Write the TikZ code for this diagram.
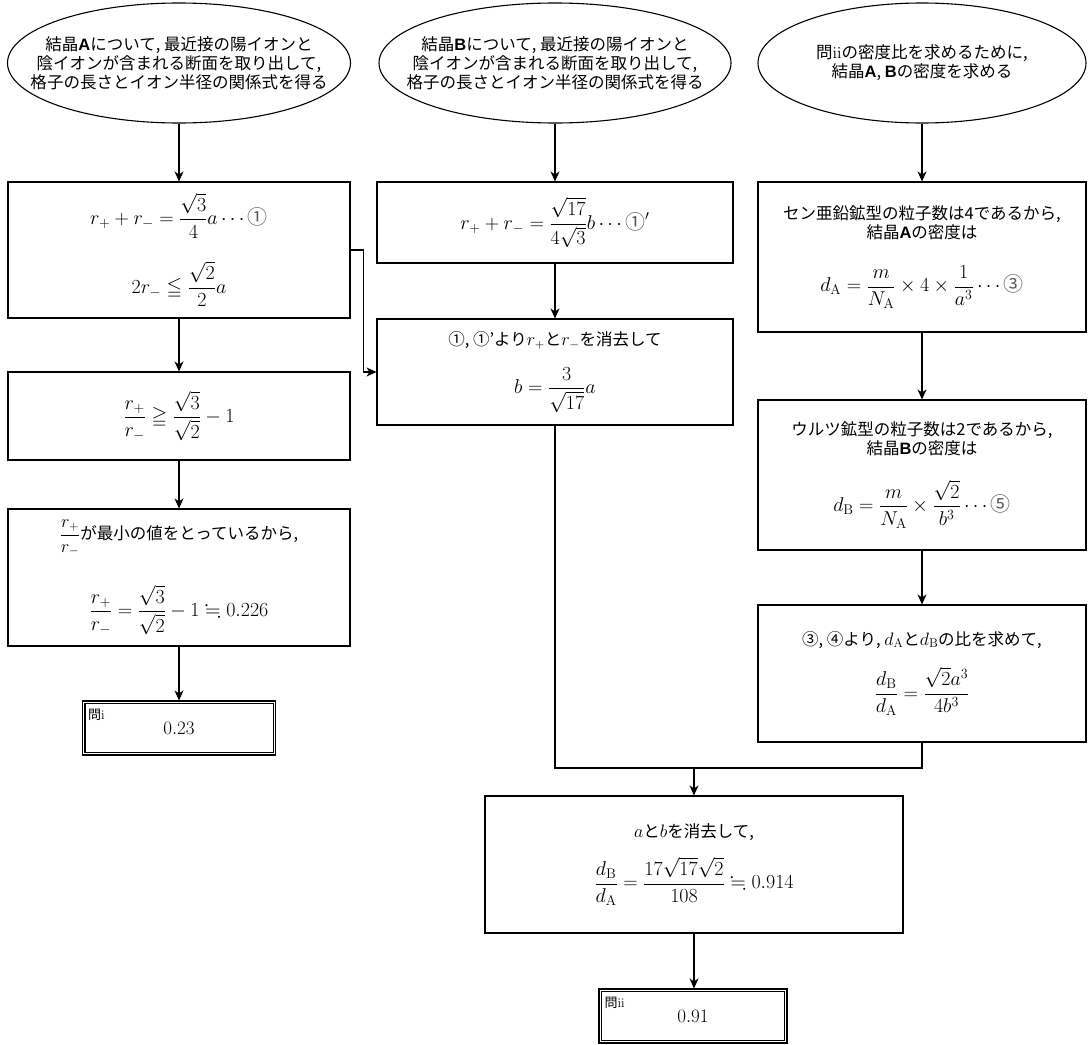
\RequirePackage{fix-cm}
\documentclass[tikz,border=0pt]{standalone}
\usepackage{amsmath,amssymb}
\usepackage[no-math]{fontspec}
\setmainfont{Noto Sans CJK JP}
\newfontfamily\latb{Liberation Sans}
\usetikzlibrary{shapes.geometric,arrows.meta}
\newcommand{\bA}{{\latb\bfseries A}}
\newcommand{\bB}{{\latb\bfseries B}}
\newcommand{\gc}[1]{\text{\textcolor{black!65}{#1}}}
\newcommand{\dm}[1]{{\fontsize{20}{24}\selectfont$\displaystyle #1$}}
\newcommand{\im}[1]{{\fontsize{18}{20}\selectfont$#1$}}
\tikzset{
  every node/.style={font=\fontsize{16.5}{19}\selectfont, text=black},
  ell/.style={draw, ellipse, line width=1.1pt, inner xsep=-30pt, inner ysep=0pt, align=center},
  stepbox/.style={draw, rectangle, line width=1.1pt, inner sep=0pt, align=center},
  finbox/.style={draw, rectangle, line width=1.1pt, inner sep=0pt, align=center, font=\fontsize{19}{22}\selectfont},
  qlabel/.style={anchor=north west, inner sep=0pt, font=\fontsize{13}{15}\selectfont},
  conn/.style={line width=1.1pt},
  inner/.style={line width=1.1pt},
  arr/.style={line width=1.1pt, -{Stealth[length=10pt,width=9pt,inset=3pt]}}
}
\begin{document}
\begin{tikzpicture}[x=1pt,y=-1pt]
\useasboundingbox (0,0) rectangle (1089,1044);
% ellipses
\node[ell, minimum width=343pt, minimum height=120pt] (E1) at (179,63)
  {結晶\bA について, 最近接の陽イオンと\\陰イオンが含まれる断面を取り出して,\\格子の長さとイオン半径の関係式を得る};
\node[ell, minimum width=352pt, minimum height=120pt] (E2) at (555,63)
  {結晶\bB について, 最近接の陽イオンと\\陰イオンが含まれる断面を取り出して,\\格子の長さとイオン半径の関係式を得る};
\node[ell, minimum width=328pt, minimum height=120pt] (E3) at (922,63)
  {問$\mathrm{ii}$の密度比を求めるために,\\結晶\bA, \bB の密度を求める};
% column A
\node[stepbox, minimum width=342pt, minimum height=136pt] (A1) at (179,250)
  {\dm{r_{+}+r_{-}=\frac{\sqrt{3}}{4}a\cdots\gc{①}}\\[22pt]
   \dm{2r_{-}\leqq\frac{\sqrt{2}}{2}a}};
\node[stepbox, minimum width=342pt, minimum height=88pt] (A2) at (179,416)
  {\dm{\frac{r_{+}}{r_{-}}\geqq\frac{\sqrt{3}}{\sqrt{2}}-1}};
\node[stepbox, minimum width=342pt, minimum height=137pt] (A3) at (179,577.5)
  {{\fontsize{18}{20}\selectfont$\dfrac{r_{+}}{r_{-}}$}が最小の値をとっているから,\\[28pt]
   \dm{\frac{r_{+}}{r_{-}}=\frac{\sqrt{3}}{\sqrt{2}}-1\fallingdotseq0.226}};
\node[finbox, minimum width=193pt, minimum height=54pt] (Ai) at (179,728) {$0.23$};
\draw[inner] ([shift={(3,3)}]Ai.north west) rectangle ([shift={(-3,-3)}]Ai.south east);
\node[qlabel] (Ail) at ([shift={(6,8)}]Ai.north west) {問$\mathrm{i}$};
% column B
\node[stepbox, minimum width=356pt, minimum height=81pt] (B1) at (555,222.5)
  {\dm{r_{+}+r_{-}=\frac{\sqrt{17}}{4\sqrt{3}}b\cdots\gc{①}{}^{\prime}}};
\node[stepbox, minimum width=356pt, minimum height=106pt] (B2) at (555,372)
  {①, ①'より\im{r_{+}}と\im{r_{-}}を消去して\\[17pt]
   \dm{b=\frac{3}{\sqrt{17}}a}};
% column C
\node[stepbox, minimum width=328pt, minimum height=150pt] (C1) at (922,257)
  {セン亜鉛鉱型の粒子数は4であるから,\\結晶\bA の密度は\\[25pt]
   \dm{d_{\mathrm{A}}=\frac{m}{N_{\mathrm{A}}}\times4\times\frac{1}{a^{3}}\cdots\gc{③}}};
\node[stepbox, minimum width=328pt, minimum height=150pt] (C2) at (922,475)
  {ウルツ鉱型の粒子数は2であるから,\\結晶\bB の密度は\\[23pt]
   \dm{d_{\mathrm{B}}=\frac{m}{N_{\mathrm{A}}}\times\frac{\sqrt{2}}{b^{3}}\cdots\gc{⑤}}};
\node[stepbox, minimum width=328pt, minimum height=137pt] (C3) at (922,673.5)
  {③, ④より, \im{d_{\mathrm{A}}}と\im{d_{\mathrm{B}}}の比を求めて,\\[18pt]
   \dm{\frac{d_{\mathrm{B}}}{d_{\mathrm{A}}}=\frac{\sqrt{2}a^{3}}{4b^{3}}}};
% bottom
\node[stepbox, minimum width=418pt, minimum height=137pt] (D) at (694,864.5)
  {\im{a}と\im{b}を消去して,\\[16pt]
   \dm{\frac{d_{\mathrm{B}}}{d_{\mathrm{A}}}=\frac{17\sqrt{17}\sqrt{2}}{108}\fallingdotseq0.914}};
\node[finbox, minimum width=188pt, minimum height=54pt] (Dii) at (693,1016) {$0.91$};
\draw[inner] ([shift={(3,3)}]Dii.north west) rectangle ([shift={(-3,-3)}]Dii.south east);
\node[qlabel] (Diil) at ([shift={(6,8)}]Dii.north west) {問$\mathrm{ii}$};
\coordinate (J) at (694,768);
% connectors
\draw[arr] (E1) -- (A1);
\draw[arr] (A1) -- (A2);
\draw[arr] (A2) -- (A3);
\draw[arr] (A3) -- (Ai);
\draw[arr] (E2) -- (B1);
\draw[arr] (B1) -- (B2);
\draw[arr] (A1.east) -- ++(13,0) |- (B2.west);
\draw[arr] (E3) -- (C1);
\draw[arr] (C1) -- (C2);
\draw[arr] (C2) -- (C3);
\draw[conn] (B2.south) |- (J);
\draw[conn] (C3.south) |- (J);
\draw[arr] (J) -- (D.north);
\draw[arr] (D.south) -- (D.south |- Dii.north);
\end{tikzpicture}
\end{document}
